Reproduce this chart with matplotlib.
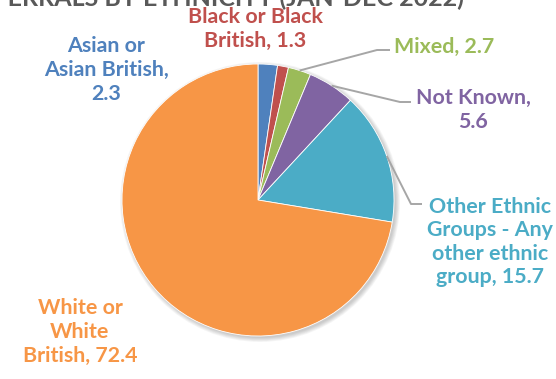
import matplotlib.pyplot as plt
from matplotlib.patches import Circle
import numpy as np

# referrals by ethnicity, percent
groups = ["Asian or\nAsian British,", "Black or Black\nBritish,", "Mixed,", "Not Known,\n",
          "Other Ethnic\nGroups - Any\nother ethnic\ngroup,", "White or\nWhite\nBritish,"]
shares = [2.3, 1.3, 2.7, 5.6, 15.7, 72.4]
colours = ["#4F81BD", "#C0504D", "#9BBB59", "#8064A2", "#4BACC6", "#F79646"]
title = "REFERRALS BY ETHNICITY (JAN-DEC 2022)"

W, H = 556, 379
fig = plt.figure(figsize=(W / 100, H / 100), dpi=100)
ax = fig.add_axes([0, 0, 1, 1])
ax.set_xlim(0, W)
ax.set_ylim(0, H)
ax.set_aspect("equal")
ax.axis("off")

cx, cy, r = 258, H - 200, 136

# soft drop shadow under the pie
for k in range(6):
    ax.add_patch(Circle((cx + 2, cy - 2), r + 0.8 * k, color="#000000",
                        alpha=0.035, lw=0, zorder=1))

wedges, _ = ax.pie(shares, colors=colours, startangle=90, counterclock=False,
                   center=(cx, cy), radius=r, frame=True,
                   wedgeprops=dict(linewidth=0.6, edgecolor="white", zorder=2))
ax.set_xlim(0, W)
ax.set_ylim(0, H)
ax.axis("off")

font = dict(family=["Lato", "DejaVu Sans"], fontweight="bold", fontsize=15.4,
            ha="center", va="center", linespacing=1.22)

# label centres and leader elbows (None = no leader line)
label_pos = [(106, 70), (255, 29), (444, 47), (473, 110), (490, 242), (80, 332)]
elbows = [None, None, [(377, 50), (390, 50)], [(400, 102), (411, 102)],
          [(411, 204), (422, 204)], None]

for w, name, val, col, (lx, ly), elb in zip(wedges, groups, shares, colours,
                                             label_pos, elbows):
    if name.endswith("\n"):
        txt = name + f"{val}"
    elif name.startswith("Asian"):
        txt = name + f"\n{val}"
    else:
        txt = f"{name} {val}"
    ax.text(lx, H - ly, txt, color=col, zorder=5, **font)
    if elb is not None:
        ang = np.deg2rad((w.theta1 + w.theta2) / 2)
        px, py = cx + r * np.cos(ang), cy + r * np.sin(ang)
        xs = [px] + [e[0] for e in elb]
        ys = [py] + [H - e[1] for e in elb]
        ax.plot(xs, ys, color="#A6A6A6", lw=1.4, zorder=3,
                solid_capstyle="butt")

ax.text(464, H - 6, title, color="#595959", ha="right", va="baseline",
        fontsize=18, fontweight="bold", family=["Lato", "DejaVu Sans"])

fig.savefig("out.png", dpi=100)
